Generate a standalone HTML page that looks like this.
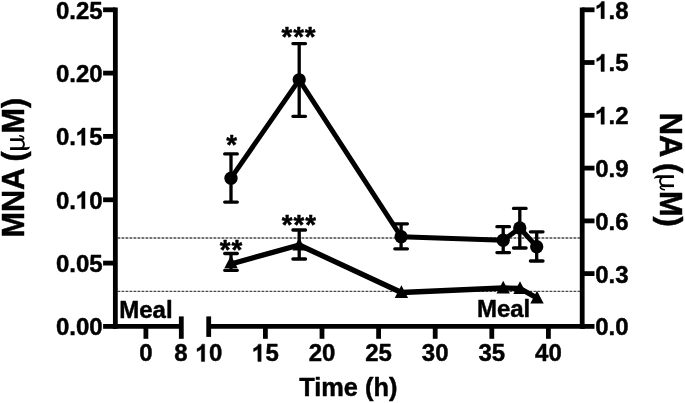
<!DOCTYPE html><html><head><meta charset="utf-8"><style>html,body{margin:0;padding:0;background:#fff}svg{display:block;will-change:transform;opacity:0.999}text{font-family:"Liberation Sans",sans-serif;font-weight:bold;fill:#000;stroke:#000;stroke-width:0.45px;stroke-linejoin:round}</style></head><body>
<svg width="685" height="403" viewBox="0 0 685 403">
<rect width="685" height="403" fill="#fff"/>
<line x1="117.5" y1="238.0" x2="580.5" y2="238.0" stroke="#4a4a4a" stroke-width="1.7" stroke-dasharray="2.8 1.2"/>
<line x1="117.5" y1="291.4" x2="580.5" y2="291.4" stroke="#4a4a4a" stroke-width="1.3" stroke-dasharray="2.8 1.2"/>
<g stroke="#000" stroke-width="4.8" fill="none">
<path d="M115.35 7.4V328.8"/>
<path d="M582.2 7.4V328.8"/>
<path d="M112.95 326.4H181.3"/>
<path d="M208.7 326.4H584.6"/>
<path d="M181.3 316.4V338.8"/>
<path d="M208.7 316.4V336.9"/>
<path d="M145.9 326.4V338.8"/>
<path d="M265.4 326.4V338.8"/>
<path d="M322.0 326.4V338.8"/>
<path d="M378.6 326.4V338.8"/>
<path d="M435.2 326.4V338.8"/>
<path d="M491.8 326.4V338.8"/>
<path d="M548.4 326.4V338.8"/>
<path d="M103.1 326.4H115.35"/>
<path d="M103.1 263.1H115.35"/>
<path d="M103.1 199.8H115.35"/>
<path d="M103.1 136.4H115.35"/>
<path d="M103.1 73.1H115.35"/>
<path d="M103.1 9.8H115.35"/>
<path d="M582.2 326.4H594.5"/>
<path d="M582.2 273.6H594.5"/>
<path d="M582.2 220.9H594.5"/>
<path d="M582.2 168.1H594.5"/>
<path d="M582.2 115.3H594.5"/>
<path d="M582.2 62.5H594.5"/>
<path d="M582.2 9.8H594.5"/>
</g>
<text y="335.3" font-size="24" x="55.90 69.24 75.91 89.26">0.00</text>
<text y="272.0" font-size="24" x="55.90 69.24 75.91 89.26">0.05</text>
<text y="208.7" font-size="24" x="55.90 69.24 89.26">0.0</text>
<path transform="translate(71.88 208.7) scale(0.01172 -0.01172)" d="M1120 0L839 0L839 1059Q685 915 476 846L476 1101Q586 1137 715 1237.5Q844 1338 892 1472L1120 1472Z" fill="#000" stroke="#000" stroke-width="38" stroke-linejoin="round"/>
<text y="145.3" font-size="24" x="55.90 69.24 89.26">0.5</text>
<path transform="translate(71.88 145.3) scale(0.01172 -0.01172)" d="M1120 0L839 0L839 1059Q685 915 476 846L476 1101Q586 1137 715 1237.5Q844 1338 892 1472L1120 1472Z" fill="#000" stroke="#000" stroke-width="38" stroke-linejoin="round"/>
<text y="82.0" font-size="24" x="55.90 69.24 75.91 89.26">0.20</text>
<text y="18.7" font-size="24" x="55.90 69.24 75.91 89.26">0.25</text>
<text y="335.3" font-size="24" x="595.20 608.54 615.22">0.0</text>
<text y="282.5" font-size="24" x="595.20 608.54 615.22">0.3</text>
<text y="229.8" font-size="24" x="595.20 608.54 615.22">0.6</text>
<text y="177.0" font-size="24" x="595.20 608.54 615.22">0.9</text>
<text y="124.2" font-size="24" x="608.54 615.22">.2</text>
<path transform="translate(591.17 124.2) scale(0.01172 -0.01172)" d="M1120 0L839 0L839 1059Q685 915 476 846L476 1101Q586 1137 715 1237.5Q844 1338 892 1472L1120 1472Z" fill="#000" stroke="#000" stroke-width="38" stroke-linejoin="round"/>
<text y="71.4" font-size="24" x="608.54 615.22">.5</text>
<path transform="translate(591.17 71.4) scale(0.01172 -0.01172)" d="M1120 0L839 0L839 1059Q685 915 476 846L476 1101Q586 1137 715 1237.5Q844 1338 892 1472L1120 1472Z" fill="#000" stroke="#000" stroke-width="38" stroke-linejoin="round"/>
<text y="18.7" font-size="24" x="608.54 615.22">.8</text>
<path transform="translate(591.17 18.7) scale(0.01172 -0.01172)" d="M1120 0L839 0L839 1059Q685 915 476 846L476 1101Q586 1137 715 1237.5Q844 1338 892 1472L1120 1472Z" fill="#000" stroke="#000" stroke-width="38" stroke-linejoin="round"/>
<text y="361.4" font-size="24" x="139.23">0</text>
<text y="361.4" font-size="24" x="174.13">8</text>
<text y="361.4" font-size="24" x="208.90">0</text>
<path transform="translate(191.52 361.4) scale(0.01172 -0.01172)" d="M1120 0L839 0L839 1059Q685 915 476 846L476 1101Q586 1137 715 1237.5Q844 1338 892 1472L1120 1472Z" fill="#000" stroke="#000" stroke-width="38" stroke-linejoin="round"/>
<text y="361.4" font-size="24" x="265.40">5</text>
<path transform="translate(248.02 361.4) scale(0.01172 -0.01172)" d="M1120 0L839 0L839 1059Q685 915 476 846L476 1101Q586 1137 715 1237.5Q844 1338 892 1472L1120 1472Z" fill="#000" stroke="#000" stroke-width="38" stroke-linejoin="round"/>
<text y="361.4" font-size="24" x="308.66 322.00">20</text>
<text y="361.4" font-size="24" x="365.26 378.60">25</text>
<text y="361.4" font-size="24" x="421.86 435.20">30</text>
<text y="361.4" font-size="24" x="478.46 491.80">35</text>
<text y="361.4" font-size="24" x="535.06 548.40">40</text>
<text x="348.3" y="395.5" font-size="25.4" text-anchor="middle">Time (h)</text>
<text x="119.2" y="318.4" font-size="24">Meal</text>
<text x="476.9" y="317" font-size="24">Meal</text>
<g transform="translate(23.6 237.6) rotate(-90)">
<text x="0" y="0" font-size="30.6">MNA <tspan dx="-1">(</tspan></text>
<g transform="translate(85.40 0) scale(0.0306 -0.0306)" fill="#000" stroke="none"><path d="M68 442H160V-100Q166 -178 188 -214Q108 -200 68 -100Z"/><path d="M365 442H453V60H365Z"/><path d="M115 135C115 -62 409 -62 409 150" fill="none" stroke="#000" stroke-width="64"/><path d="M409 100C409 -5 462 -22 497 18C519 46 533 90 539 126" fill="none" stroke="#000" stroke-width="52" stroke-linecap="round"/></g>
<text x="104.1" y="0" font-size="30.6">M)</text>
</g>
<g transform="translate(660.4 112.65) rotate(90)">
<text x="0" y="0" font-size="30.8">NA <tspan dx="-1.6">(</tspan></text>
<g transform="translate(60.50 0) scale(0.0308 -0.0308)" fill="#000" stroke="none"><path d="M68 442H160V-100Q166 -178 188 -214Q108 -200 68 -100Z"/><path d="M365 442H453V60H365Z"/><path d="M115 135C115 -62 409 -62 409 150" fill="none" stroke="#000" stroke-width="64"/><path d="M409 100C409 -5 462 -22 497 18C519 46 533 90 539 126" fill="none" stroke="#000" stroke-width="52" stroke-linecap="round"/></g>
<text x="78.3" y="0" font-size="30.8">M)</text>
</g>
<path d="M224.7 153.9H237.3M224.7 202.1H237.3M231 153.9V202.1" stroke="#000" stroke-width="3.3" fill="none" stroke-linecap="round"/>
<path d="M292.9 43.6H305.5M292.9 116.3H305.5M299.2 43.6V116.3" stroke="#000" stroke-width="3.3" fill="none" stroke-linecap="round"/>
<path d="M394.8 223.8H407.4M394.8 248.8H407.4M401.1 223.8V248.8" stroke="#000" stroke-width="3.3" fill="none" stroke-linecap="round"/>
<path d="M496.9 226.7H509.5M496.9 252.6H509.5M503.2 226.7V252.6" stroke="#000" stroke-width="3.3" fill="none" stroke-linecap="round"/>
<path d="M513.5 208.4H526.1M513.5 248H526.1M519.8 208.4V248" stroke="#000" stroke-width="3.3" fill="none" stroke-linecap="round"/>
<path d="M530.4 231.8H543.0M530.4 261H543.0M536.7 231.8V261" stroke="#000" stroke-width="3.3" fill="none" stroke-linecap="round"/>
<path d="M224.7 253.5H237.3M224.7 270.3H237.3M231 253.5V270.3" stroke="#000" stroke-width="3.3" fill="none" stroke-linecap="round"/>
<path d="M292.9 230H305.5M292.9 259H305.5M299.2 230V259" stroke="#000" stroke-width="3.3" fill="none" stroke-linecap="round"/>
<polyline fill="none" stroke="#000" stroke-width="4.9" stroke-linejoin="round" points="231,178.2 299.2,79.8 401.1,236.7 503.2,240.2 519.8,228 536.7,246.7"/>
<polyline fill="none" stroke="#000" stroke-width="5.3" stroke-linejoin="round" points="231,264.0 299.2,245 401.4,292.5 503.2,288 520,288.5 537,298"/>
<circle cx="231" cy="178.2" r="6.65"/>
<circle cx="299.2" cy="79.8" r="6.65"/>
<circle cx="401.1" cy="236.7" r="6.65"/>
<circle cx="503.2" cy="240.2" r="6.65"/>
<circle cx="519.8" cy="228" r="6.65"/>
<circle cx="536.7" cy="246.7" r="6.65"/>
<path d="M231 255.59999999999997L237.7 268.29999999999995H224.3Z"/>
<path d="M299.2 237.7L305.9 250.4H292.5Z"/>
<path d="M401.4 285.2L408.09999999999997 297.9H394.7Z"/>
<path d="M503.2 280.7L509.9 293.4H496.5Z"/>
<path d="M520 281.2L526.7 293.9H513.3Z"/>
<path d="M537 290.7L543.7 303.4H530.3Z"/>
<text x="231.7" y="154.2" font-size="27.6" text-anchor="middle" stroke-width="0.35">*</text>
<text x="286.8" y="46.2" font-size="27.6" text-anchor="middle" stroke-width="0.35">*</text>
<text x="298.5" y="46.2" font-size="27.6" text-anchor="middle" stroke-width="0.35">*</text>
<text x="310.2" y="46.2" font-size="27.6" text-anchor="middle" stroke-width="0.35">*</text>
<text x="225.2" y="259.1" font-size="27.6" text-anchor="middle" stroke-width="0.35">*</text>
<text x="236.8" y="259.1" font-size="27.6" text-anchor="middle" stroke-width="0.35">*</text>
<text x="287.2" y="233.5" font-size="27.6" text-anchor="middle" stroke-width="0.35">*</text>
<text x="298.9" y="233.5" font-size="27.6" text-anchor="middle" stroke-width="0.35">*</text>
<text x="310.6" y="233.5" font-size="27.6" text-anchor="middle" stroke-width="0.35">*</text>
</svg></body></html>
